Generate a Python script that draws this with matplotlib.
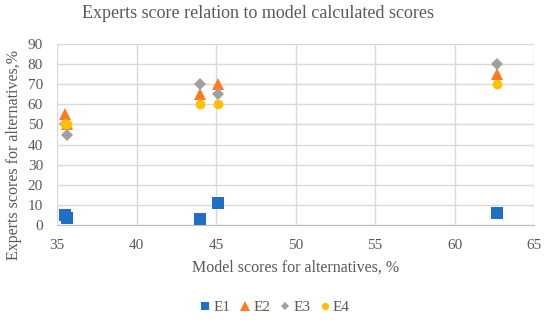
import matplotlib.pyplot as plt

plt.rcParams['font.family'] = ['Liberation Serif', 'DejaVu Serif']

# data
model_scores = [35.5, 35.6, 44.0, 45.1, 62.7]
e1 = [5, 3.5, 3, 11, 6]
e2 = [55, 50, 65, 70, 75]
e3 = [50, 45, 70, 65, 80]
e4 = [50, 50, 60, 60, 70]

series = [
    ('E1', e1, 's', '#1F6FC6', 8),
    ('E2', e2, '^', '#FF7A21', 9),
    ('E3', e3, 'D', '#A0A0A0', 6),
    ('E4', e4, 'o', '#FFC000', 7),
]

fig = plt.figure(figsize=(5.5, 3.21), dpi=100)
ax = fig.add_axes([57 / 550, 1 - 225 / 321, (534 - 57) / 550, (225 - 44) / 321])

for name, vals, m, c, s in series:
    ax.plot(model_scores, vals, linestyle='none', marker=m, color=c,
            markersize=s, markeredgewidth=0, label=name, zorder=3)

ax.set_xlim(35, 65)
ax.set_ylim(0, 90)
ax.set_xticks(range(35, 66, 5))
ax.set_yticks(range(0, 91, 10))
ax.grid(True, color='#D9D9D9', linewidth=1)
ax.set_axisbelow(True)
for side in ['top', 'right', 'left']:
    ax.spines[side].set_visible(False)
ax.spines['bottom'].set_color('#BFBFBF')
ax.tick_params(length=0, labelsize=11, colors='#595959')
ax.tick_params(axis='x', pad=10)
ax.tick_params(axis='y', pad=10)

fig.text(258 / 550, 1 - 14 / 321, 'Experts score relation to model calculated scores',
         fontsize=13, color='#595959', ha='center', va='center')
ax.set_xlabel('Model scores for alternatives, %', fontsize=11.5, color='#595959')
ax.xaxis.set_label_coords(0.5, -(268 - 225) / 181, transform=ax.transAxes)
ax.xaxis.label.set_va('center')
ax.set_ylabel('Experts scores for alternatives,%', fontsize=11.5, color='#595959')
ax.yaxis.set_label_coords(-(57 - 14) / 477, (225 - 155) / 181, transform=ax.transAxes)
ax.yaxis.label.set_va('center')

fig.legend(loc='center', bbox_to_anchor=(274 / 550, 1 - 307 / 321), ncol=4, frameon=False,
           fontsize=11, labelcolor='#595959', handletextpad=0.1, columnspacing=0.5,
           handlelength=0.9, markerscale=0.75)

fig.savefig('out.png', dpi=100)
